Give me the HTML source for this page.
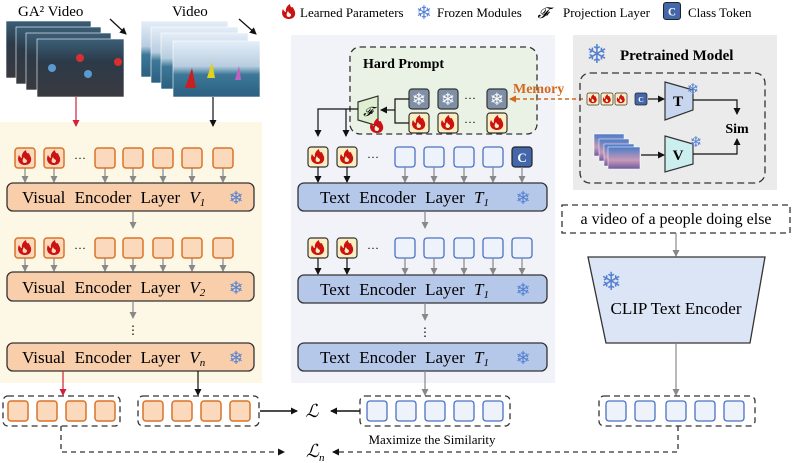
<!DOCTYPE html>
<html><head><meta charset="utf-8"><style>
html,body{margin:0;padding:0;background:#fff}
svg{display:block}
text{font-family:"Liberation Serif",serif}
</style></head><body>
<svg width="797" height="463" viewBox="0 0 797 463" xmlns="http://www.w3.org/2000/svg">
<defs>
<marker id="ag" markerWidth="8" markerHeight="8" refX="6" refY="4" orient="auto" markerUnits="userSpaceOnUse"><path d="M0,0.5 L7,4 L0,7.5z" fill="#888"/></marker>
<marker id="ak" markerWidth="8" markerHeight="8" refX="6" refY="4" orient="auto" markerUnits="userSpaceOnUse"><path d="M0,0.5 L7,4 L0,7.5z" fill="#111"/></marker>
<marker id="ar" markerWidth="8" markerHeight="8" refX="6" refY="4" orient="auto" markerUnits="userSpaceOnUse"><path d="M0,0.5 L7,4 L0,7.5z" fill="#d0203a"/></marker>
<marker id="ao" markerWidth="8" markerHeight="8" refX="6" refY="4" orient="auto" markerUnits="userSpaceOnUse"><path d="M0,0.5 L7,4 L0,7.5z" fill="#d2691e"/></marker>
<g id="flame"><path d="M-1,7 C-7,6 -8,1 -6,-3 C-5,-1 -4,0 -3,0 C-4,-4 -1,-7 1,-8 C1,-5 3,-4 4,-5 C4,-3 7,-1 6,3 C5,6 3,7 -1,7z M0,5 C-3,5 -3,2 -1,-1 C0,2 2,1 2,3 C2,4 1,5 0,5z" fill="#cc1111" fill-rule="evenodd"/></g>
<g id="ftok"><rect x="-10" y="-10" width="20" height="20" rx="3" fill="#fbeec0" stroke="#333" stroke-width="1.2"/><use href="#flame"/></g>
<g id="otok"><rect x="-10" y="-10" width="20" height="20" rx="3" fill="#fbd9bc" stroke="#d9742a" stroke-width="1.5"/></g>
<g id="oftok"><rect x="-10" y="-10" width="20" height="20" rx="3" fill="#fbd9bc" stroke="#d9742a" stroke-width="1.5"/><use href="#flame"/></g>
<g id="btok"><rect x="-10" y="-10" width="20" height="20" rx="3" fill="#eef2fb" stroke="#4a72c4" stroke-width="1.3"/></g>
<g id="ctok"><rect x="-10" y="-10" width="20" height="20" rx="3" fill="#4466aa" stroke="#222" stroke-width="1.2"/><text x="0" y="5" font-size="13" font-weight="bold" fill="#fff" text-anchor="middle">C</text></g>
<g id="stok"><rect x="-10" y="-10" width="20" height="20" rx="3" fill="#7f8fa6" stroke="#333" stroke-width="1.2"/><text x="0" y="6" font-size="17" fill="#fff" text-anchor="middle" style="font-family:'DejaVu Sans'">❄</text></g>
<linearGradient id="ga" x1="0" y1="0" x2="0" y2="1"><stop offset="0" stop-color="#3a5f78"/><stop offset="0.4" stop-color="#2c3a48"/><stop offset="1" stop-color="#3a3a40"/></linearGradient>
<linearGradient id="sea" x1="0" y1="0" x2="0" y2="1"><stop offset="0" stop-color="#e4eef8"/><stop offset="0.45" stop-color="#b8cde0"/><stop offset="0.6" stop-color="#3d7898"/><stop offset="1" stop-color="#2a5f80"/></linearGradient>
<linearGradient id="dusk" x1="0" y1="0" x2="0" y2="1"><stop offset="0" stop-color="#4a7bc8"/><stop offset="0.6" stop-color="#c89ab8"/><stop offset="1" stop-color="#6a5aa0"/></linearGradient>
</defs>

<rect x="0" y="122" width="262" height="261" fill="#fdf7e6"/>
<rect x="291" y="35" width="264" height="348" fill="#f1f3f9"/>
<rect x="573" y="35" width="204" height="155" fill="#ebebeb"/>

<use href="#flame" x="289" y="12"/>
<text x="300" y="17" font-size="13">Learned Parameters</text>
<text x="424" y="19" font-size="19" fill="#5580d0" text-anchor="middle" style="font-family:'DejaVu Sans'">❄</text>
<text x="437" y="17" font-size="13">Frozen Modules</text>
<text x="543" y="18" font-size="15" font-style="italic" text-anchor="middle">𝓕</text>
<text x="563" y="17" font-size="13">Projection Layer</text>
<g transform="translate(672,11) scale(0.85)"><use href="#ctok"/></g>
<text x="688" y="17" font-size="13">Class Token</text>

<text x="18" y="16" font-size="15">GA² Video</text>
<text x="172" y="16" font-size="15">Video</text>
<g stroke="#fff" stroke-width="0.6">
<rect x="6" y="21" width="85" height="57" fill="url(#ga)"/>
<rect x="16" y="27" width="85" height="57" fill="url(#ga)"/>
<rect x="26" y="33" width="85" height="57" fill="url(#ga)"/>
<rect x="37" y="39" width="87" height="58" fill="url(#ga)"/>
<rect x="141" y="21" width="87" height="56" fill="url(#sea)"/>
<rect x="151" y="27" width="87" height="56" fill="url(#sea)"/>
<rect x="161" y="33" width="87" height="56" fill="url(#sea)"/>
<rect x="173" y="41" width="87" height="56" fill="url(#sea)"/>
</g>
<circle cx="80" cy="58" r="4" fill="#d83030"/><circle cx="118" cy="62" r="4" fill="#d83030"/><circle cx="52" cy="68" r="4" fill="#5a9ad0"/><circle cx="88" cy="74" r="4" fill="#5a9ad0"/>
<path d="M185,88 L192,68 L196,88z" fill="#c82020"/><path d="M207,78 L212,62 L215,78z" fill="#e0d020"/><path d="M235,80 L239,66 L241,80z" fill="#c060c0"/>
<line x1="110" y1="19" x2="126" y2="34" stroke="#111" stroke-width="1.3" marker-end="url(#ak)"/>
<line x1="239" y1="19" x2="256" y2="34" stroke="#111" stroke-width="1.3" marker-end="url(#ak)"/>
<line x1="76" y1="97" x2="76" y2="126" stroke="#d0203a" stroke-width="1.2" marker-end="url(#ar)"/>
<line x1="213" y1="97" x2="213" y2="126" stroke="#111" stroke-width="1.2" marker-end="url(#ak)"/>

<g>
<use href="#oftok" x="25" y="158"/><use href="#oftok" x="54" y="158"/>
<text x="80" y="162" font-size="12" text-anchor="middle">···</text>
<use href="#otok" x="105" y="158"/><use href="#otok" x="133" y="158"/><use href="#otok" x="163" y="158"/><use href="#otok" x="192" y="158"/><use href="#otok" x="223" y="158"/>
<g stroke="#888" stroke-width="1.2" marker-end="url(#ag)">
<line x1="25" y1="168" x2="25" y2="182"/><line x1="54" y1="168" x2="54" y2="182"/><line x1="105" y1="168" x2="105" y2="182"/><line x1="133" y1="168" x2="133" y2="182"/><line x1="163" y1="168" x2="163" y2="182"/><line x1="192" y1="168" x2="192" y2="182"/><line x1="223" y1="168" x2="223" y2="182"/>
</g>
<rect x="7" y="183" width="247" height="28" rx="6" fill="#f8ceab" stroke="#333" stroke-width="1.3"/>
<text x="22" y="203" font-size="17" word-spacing="5">Visual Encoder Layer <tspan font-style="italic">V<tspan font-size="11" dy="3">1</tspan></tspan></text>
<text x="236" y="204" font-size="18" fill="#5580d0" text-anchor="middle" style="font-family:'DejaVu Sans'">❄</text>
<line x1="133" y1="211" x2="133" y2="228" stroke="#888" stroke-width="1.2" marker-end="url(#ag)"/>

<use href="#oftok" x="25" y="248"/><use href="#oftok" x="54" y="248"/>
<text x="80" y="252" font-size="12" text-anchor="middle">···</text>
<use href="#otok" x="105" y="248"/><use href="#otok" x="133" y="248"/><use href="#otok" x="163" y="248"/><use href="#otok" x="192" y="248"/><use href="#otok" x="223" y="248"/>
<g stroke="#888" stroke-width="1.2" marker-end="url(#ag)">
<line x1="25" y1="258" x2="25" y2="271"/><line x1="54" y1="258" x2="54" y2="271"/><line x1="105" y1="258" x2="105" y2="271"/><line x1="133" y1="258" x2="133" y2="271"/><line x1="163" y1="258" x2="163" y2="271"/><line x1="192" y1="258" x2="192" y2="271"/><line x1="223" y1="258" x2="223" y2="271"/>
</g>
<rect x="7" y="272" width="247" height="29" rx="6" fill="#f8ceab" stroke="#333" stroke-width="1.3"/>
<text x="22" y="293" font-size="17" word-spacing="5">Visual Encoder Layer <tspan font-style="italic">V<tspan font-size="11" dy="3">2</tspan></tspan></text>
<text x="236" y="294" font-size="18" fill="#5580d0" text-anchor="middle" style="font-family:'DejaVu Sans'">❄</text>
<line x1="133" y1="301" x2="133" y2="318" stroke="#888" stroke-width="1.2" marker-end="url(#ag)"/>
<text x="133" y="334" font-size="12" text-anchor="middle">⋮</text>
<rect x="7" y="343" width="247" height="28" rx="6" fill="#f8ceab" stroke="#333" stroke-width="1.3"/>
<text x="22" y="363" font-size="17" word-spacing="5">Visual Encoder Layer <tspan font-style="italic">V<tspan font-size="11" dy="3">n</tspan></tspan></text>
<text x="236" y="364" font-size="18" fill="#5580d0" text-anchor="middle" style="font-family:'DejaVu Sans'">❄</text>
</g>

<rect x="350" y="47" width="187" height="87" rx="10" fill="#eaf2e6" stroke="#333" stroke-width="1.3" stroke-dasharray="6,4"/>
<text x="363" y="68" font-size="14" font-weight="bold">Hard Prompt</text>
<use href="#stok" x="419" y="99"/><use href="#stok" x="448" y="99"/><text x="470" y="102" font-size="12" text-anchor="middle">···</text><use href="#stok" x="497" y="99"/>
<use href="#ftok" x="419" y="123"/><use href="#ftok" x="448" y="123"/><text x="470" y="126" font-size="12" text-anchor="middle">···</text><use href="#ftok" x="497" y="123"/>
<path d="M358,102 L378,96 L378,126 L358,120z" fill="#dff0d0" stroke="#333" stroke-width="1.2"/>
<text x="368" y="116" font-size="13" font-style="italic" text-anchor="middle">𝓕</text>
<use href="#flame" x="377" y="126"/>
<path d="M409,99 L395,99 L395,123 L409,123" fill="none" stroke="#111" stroke-width="1.2"/>
<line x1="395" y1="110" x2="381" y2="110" stroke="#111" stroke-width="1.2" marker-end="url(#ak)"/>
<path d="M358,109 L318,109 L318,136" fill="none" stroke="#111" stroke-width="1.2" marker-end="url(#ak)"/>
<path d="M346,109 L346,136" fill="none" stroke="#111" stroke-width="1.2" marker-end="url(#ak)"/>
<line x1="583" y1="99" x2="510" y2="99" stroke="#d2691e" stroke-width="1.5" stroke-dasharray="4,3" marker-end="url(#ao)"/>
<text x="513" y="93" font-size="14" font-weight="bold" fill="#d2691e">Memory</text>

<use href="#ftok" x="318" y="157"/><use href="#ftok" x="347" y="157"/><text x="373" y="161" font-size="12" text-anchor="middle">···</text>
<use href="#btok" x="405" y="157"/><use href="#btok" x="434" y="157"/><use href="#btok" x="464" y="157"/><use href="#btok" x="493" y="157"/><use href="#ctok" x="522" y="157"/>
<g stroke="#111" stroke-width="1.2" marker-end="url(#ak)"><line x1="318" y1="167" x2="318" y2="182"/><line x1="347" y1="167" x2="347" y2="182"/></g>
<g stroke="#888" stroke-width="1.2" marker-end="url(#ag)"><line x1="405" y1="167" x2="405" y2="182"/><line x1="434" y1="167" x2="434" y2="182"/><line x1="464" y1="167" x2="464" y2="182"/><line x1="493" y1="167" x2="493" y2="182"/><line x1="522" y1="167" x2="522" y2="182"/></g>
<rect x="298" y="183" width="249" height="28" rx="6" fill="#b6c8ea" stroke="#333" stroke-width="1.3"/>
<text x="320" y="203" font-size="17" word-spacing="5">Text Encoder Layer <tspan font-style="italic">T<tspan font-size="11" dy="3">1</tspan></tspan></text>
<text x="523" y="204" font-size="18" fill="#5580d0" text-anchor="middle" style="font-family:'DejaVu Sans'">❄</text>
<line x1="425" y1="211" x2="425" y2="228" stroke="#888" stroke-width="1.2" marker-end="url(#ag)"/>

<use href="#ftok" x="318" y="248"/><use href="#ftok" x="347" y="248"/><text x="373" y="252" font-size="12" text-anchor="middle">···</text>
<use href="#btok" x="405" y="248"/><use href="#btok" x="434" y="248"/><use href="#btok" x="464" y="248"/><use href="#btok" x="493" y="248"/><use href="#btok" x="522" y="248"/>
<g stroke="#111" stroke-width="1.2" marker-end="url(#ak)"><line x1="318" y1="258" x2="318" y2="274"/><line x1="347" y1="258" x2="347" y2="274"/></g>
<g stroke="#888" stroke-width="1.2" marker-end="url(#ag)"><line x1="405" y1="258" x2="405" y2="274"/><line x1="434" y1="258" x2="434" y2="274"/><line x1="464" y1="258" x2="464" y2="274"/><line x1="493" y1="258" x2="493" y2="274"/><line x1="522" y1="258" x2="522" y2="274"/></g>
<rect x="298" y="275" width="249" height="28" rx="6" fill="#b6c8ea" stroke="#333" stroke-width="1.3"/>
<text x="320" y="295" font-size="17" word-spacing="5">Text Encoder Layer <tspan font-style="italic">T<tspan font-size="11" dy="3">1</tspan></tspan></text>
<text x="523" y="296" font-size="18" fill="#5580d0" text-anchor="middle" style="font-family:'DejaVu Sans'">❄</text>
<line x1="425" y1="303" x2="425" y2="320" stroke="#888" stroke-width="1.2" marker-end="url(#ag)"/>
<text x="425" y="336" font-size="12" text-anchor="middle">⋮</text>
<rect x="298" y="343" width="249" height="28" rx="6" fill="#b6c8ea" stroke="#333" stroke-width="1.3"/>
<text x="320" y="363" font-size="17" word-spacing="5">Text Encoder Layer <tspan font-style="italic">T<tspan font-size="11" dy="3">1</tspan></tspan></text>
<text x="523" y="364" font-size="18" fill="#5580d0" text-anchor="middle" style="font-family:'DejaVu Sans'">❄</text>

<text x="597" y="63" font-size="26" fill="#5580d0" text-anchor="middle" style="font-family:'DejaVu Sans'">❄</text>
<text x="620" y="60" font-size="15" font-weight="bold">Pretrained Model</text>
<rect x="580" y="73" width="185" height="110" rx="10" fill="none" stroke="#333" stroke-width="1.3" stroke-dasharray="7,4"/>
<g transform="translate(593,99) scale(0.6)"><use href="#ftok"/></g>
<g transform="translate(607,99) scale(0.6)"><use href="#ftok"/></g>
<g transform="translate(621,99) scale(0.6)"><use href="#ftok"/></g>
<g transform="translate(641,99) scale(0.6)"><use href="#ctok"/></g>
<line x1="648" y1="99" x2="664" y2="99" stroke="#111" stroke-width="1.2" marker-end="url(#ak)"/>
<path d="M665,82 L693,90 L693,110 L665,120z" fill="#c7d5ef" stroke="#333" stroke-width="1.2"/>
<text x="678" y="106" font-size="15" font-weight="bold" text-anchor="middle">T</text>
<text x="693" y="94" font-size="15" fill="#5580d0" text-anchor="middle" style="font-family:'DejaVu Sans'">❄</text>
<path d="M665,136 L693,144 L693,164 L665,172z" fill="#cdeeee" stroke="#333" stroke-width="1.2"/>
<text x="678" y="160" font-size="15" font-weight="bold" text-anchor="middle">V</text>
<text x="696" y="147" font-size="15" fill="#5580d0" text-anchor="middle" style="font-family:'DejaVu Sans'">❄</text>
<rect x="594" y="134" width="30" height="22" fill="url(#dusk)" stroke="#fff" stroke-width="0.5"/>
<rect x="599" y="139" width="30" height="22" fill="url(#dusk)" stroke="#fff" stroke-width="0.5"/>
<rect x="604" y="144" width="30" height="22" fill="url(#dusk)" stroke="#fff" stroke-width="0.5"/>
<rect x="608" y="147" width="32" height="22" fill="url(#dusk)" stroke="#fff" stroke-width="0.5"/>
<line x1="641" y1="155" x2="664" y2="155" stroke="#111" stroke-width="1.2" marker-end="url(#ak)"/>
<path d="M693,100 L737,100 L737,114" fill="none" stroke="#111" stroke-width="1.2" marker-end="url(#ak)"/>
<path d="M693,154 L737,154 L737,139" fill="none" stroke="#111" stroke-width="1.2" marker-end="url(#ak)"/>
<text x="737" y="133" font-size="14" font-weight="bold" text-anchor="middle">Sim</text>

<rect x="562" y="205" width="228" height="28" fill="#fff" stroke="#333" stroke-width="1.3" stroke-dasharray="6,4"/>
<text x="676" y="224" font-size="16" text-anchor="middle">a video of a people doing else</text>
<line x1="676" y1="233" x2="676" y2="256" stroke="#888" stroke-width="1.2" marker-end="url(#ag)"/>
<path d="M588,257 L765,257 L750,343 L606,343z" fill="#dce5f5" stroke="#333" stroke-width="1.3"/>
<text x="611" y="290" font-size="25" fill="#5580d0" text-anchor="middle" style="font-family:'DejaVu Sans'">❄</text>
<text x="676" y="314" font-size="17" text-anchor="middle">CLIP Text  Encoder</text>
<line x1="676" y1="343" x2="676" y2="395" stroke="#888" stroke-width="1.2" marker-end="url(#ag)"/>

<line x1="63" y1="371" x2="63" y2="395" stroke="#d0203a" stroke-width="1.2" marker-end="url(#ar)"/>
<line x1="198" y1="371" x2="198" y2="395" stroke="#111" stroke-width="1.2" marker-end="url(#ak)"/>
<line x1="425" y1="371" x2="425" y2="395" stroke="#888" stroke-width="1.2" marker-end="url(#ag)"/>
<g fill="none" stroke="#333" stroke-width="1.3" stroke-dasharray="6,4">
<rect x="3" y="396" width="117" height="30" rx="5"/>
<rect x="138" y="396" width="121" height="30" rx="5"/>
<rect x="360" y="396" width="150" height="30" rx="5"/>
<rect x="599" y="396" width="156" height="30" rx="5"/>
</g>
<use href="#otok" x="18" y="411"/><use href="#otok" x="47" y="411"/><use href="#otok" x="76" y="411"/><use href="#otok" x="105" y="411"/>
<use href="#otok" x="153" y="411"/><use href="#otok" x="182" y="411"/><use href="#otok" x="211" y="411"/><use href="#otok" x="240" y="411"/>
<use href="#btok" x="377" y="411"/><use href="#btok" x="406" y="411"/><use href="#btok" x="435" y="411"/><use href="#btok" x="464" y="411"/><use href="#btok" x="493" y="411"/>
<use href="#btok" x="616" y="411"/><use href="#btok" x="645" y="411"/><use href="#btok" x="676" y="411"/><use href="#btok" x="705" y="411"/><use href="#btok" x="734" y="411"/>
<line x1="260" y1="411" x2="297" y2="411" stroke="#111" stroke-width="1.5" marker-end="url(#ak)"/>
<line x1="360" y1="411" x2="331" y2="411" stroke="#111" stroke-width="1.5" marker-end="url(#ak)"/>
<text x="312" y="417" font-size="18" font-style="italic" text-anchor="middle">ℒ</text>
<path d="M61,426 L61,452 L284,452" fill="none" stroke="#333" stroke-width="1.3" stroke-dasharray="5,4" marker-end="url(#ak)"/>
<path d="M678,426 L678,452 L333,452" fill="none" stroke="#333" stroke-width="1.3" stroke-dasharray="5,4" marker-end="url(#ak)"/>
<text x="306" y="457" font-size="18" font-style="italic">ℒ<tspan font-size="11" dy="4">n</tspan></text>
<text x="432" y="444" font-size="13" text-anchor="middle">Maximize the Similarity</text>
</svg>
</body></html>
